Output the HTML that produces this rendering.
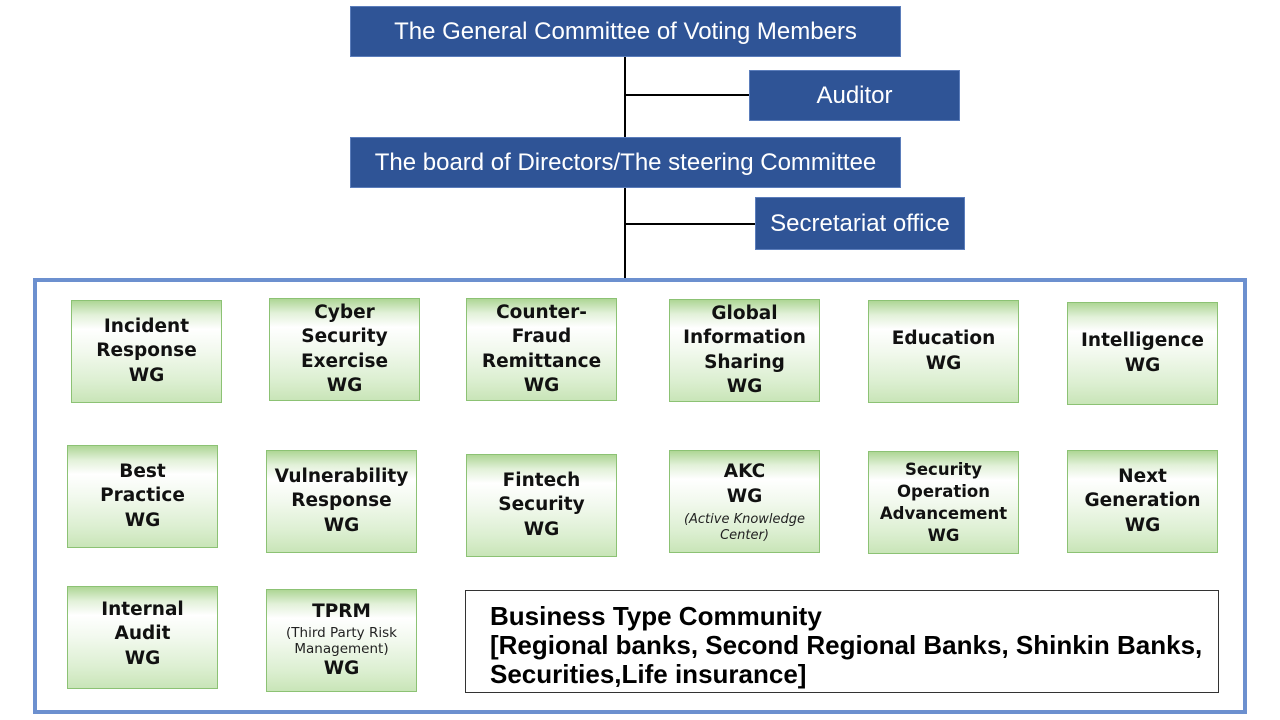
<!DOCTYPE html>
<html>
<head>
<meta charset="utf-8">
<style>
  html,body{margin:0;padding:0;background:#fff;}
  body{width:1280px;height:720px;position:relative;overflow:hidden;font-family:"Liberation Sans",sans-serif;}
  .blue{position:absolute;background:#2f5496;border:1px solid #5b7dbb;box-sizing:border-box;color:#fff;
        font-family:"Liberation Sans",sans-serif;font-size:24px;display:flex;align-items:center;justify-content:center;white-space:nowrap;}
  .ln{position:absolute;background:#000;}
  .frame{position:absolute;left:33px;top:278px;width:1214px;height:436px;border:4px solid #6c90cf;box-sizing:border-box;}
  .g{position:absolute;width:151px;height:103px;box-sizing:border-box;border:1.5px solid #8cc274;
     background:linear-gradient(to bottom,#aed695 0%,#e2f1d9 14%,#ffffff 28%,#f2f9ee 50%,#dcefd1 80%,#c9e5b8 100%);
     display:flex;flex-direction:column;align-items:center;justify-content:center;text-align:center;
     font-family:"DejaVu Sans",sans-serif;font-weight:bold;font-size:18.5px;line-height:24.5px;color:#111;}
  .g .s{font-weight:normal;font-size:13px;line-height:16px;color:#222;}
  .g .i{font-style:italic;}
  .biz{position:absolute;left:465px;top:590px;width:754px;height:103px;box-sizing:border-box;border:1.5px solid #333;
       padding:11px 0 0 24px;font-family:"Liberation Sans",sans-serif;font-weight:bold;font-size:26px;line-height:29px;color:#000;white-space:nowrap;}
</style>
</head>
<body>
  <!-- connectors -->
  <div class="ln" style="left:624px;top:56px;width:2px;height:224px;"></div>
  <div class="ln" style="left:625px;top:94px;width:124px;height:2px;"></div>
  <div class="ln" style="left:625px;top:223px;width:130px;height:2px;"></div>

  <div class="blue" style="left:350px;top:6px;width:551px;height:51px;">The General Committee of Voting Members</div>
  <div class="blue" style="left:749px;top:70px;width:211px;height:51px;">Auditor</div>
  <div class="blue" style="left:350px;top:137px;width:551px;height:51px;">The board of Directors/The steering Committee</div>
  <div class="blue" style="left:755px;top:197px;width:210px;height:53px;">Secretariat office</div>

  <div class="frame"></div>

  <!-- Row 1 -->
  <div class="g" style="left:71px;top:300px;">Incident<br>Response<br>WG</div>
  <div class="g" style="left:269px;top:298px;">Cyber<br>Security<br>Exercise<br>WG</div>
  <div class="g" style="left:466px;top:298px;">Counter-<br>Fraud<br>Remittance<br>WG</div>
  <div class="g" style="left:669px;top:299px;">Global<br>Information<br>Sharing<br>WG</div>
  <div class="g" style="left:868px;top:300px;">Education<br>WG</div>
  <div class="g" style="left:1067px;top:302px;">Intelligence<br>WG</div>

  <!-- Row 2 -->
  <div class="g" style="left:67px;top:445px;">Best<br>Practice<br>WG</div>
  <div class="g" style="left:266px;top:450px;">Vulnerability<br>Response<br>WG</div>
  <div class="g" style="left:466px;top:454px;">Fintech<br>Security<br>WG</div>
  <div class="g" style="left:669px;top:450px;justify-content:flex-start;padding-top:9px;">AKC<br>WG<div class="s i" style="margin-top:3px;">(Active Knowledge<br>Center)</div></div>
  <div class="g" style="left:868px;top:451px;font-size:16.5px;line-height:22px;">Security<br>Operation<br>Advancement<br>WG</div>
  <div class="g" style="left:1067px;top:450px;">Next<br>Generation<br>WG</div>

  <!-- Row 3 -->
  <div class="g" style="left:67px;top:586px;padding-bottom:6px;">Internal<br>Audit<br>WG</div>
  <div class="g" style="left:266px;top:589px;"><div>TPRM</div><div class="s" style="font-size:13.5px;">(Third Party Risk<br>Management)</div><div>WG</div></div>

  <div class="biz">Business Type Community<br>[Regional banks, Second Regional Banks, Shinkin Banks,<br>Securities,Life insurance]</div>
</body>
</html>
